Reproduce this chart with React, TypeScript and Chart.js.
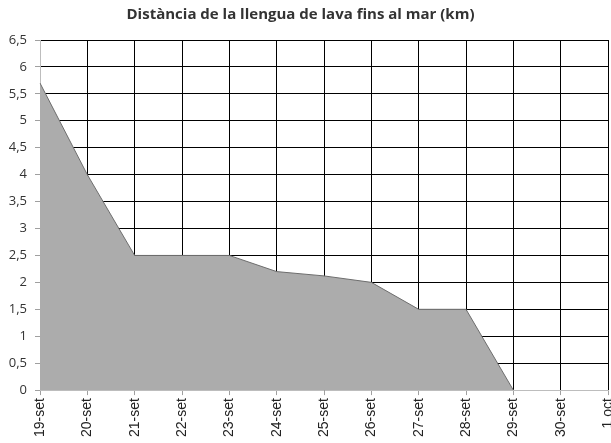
import React, { useEffect, useRef } from "react";
import { Chart, registerables } from "chart.js";

Chart.register(...registerables);

const categories = ["19-set", "20-set", "21-set", "22-set", "23-set", "24-set", "25-set", "26-set", "27-set", "28-set", "29-set", "30-set", "1 oct"];
const distanceKm: (number | null)[] = [5.7, 4.0, 2.5, 2.5, 2.5, 2.2, 2.12, 2.0, 1.5, 1.5, 0, null, null];
const titleText = "Distància de la llengua de lava fins al mar (km)";

const shiftTitle = {
  id: "shiftTitle",
  afterLayout(chart: any) {
    const t = chart.titleBlock;
    if (t) {
      t.left -= 5;
      t.right -= 5;
    }
  },
};

export default function App() {
  const ref = useRef<HTMLCanvasElement | null>(null);
  useEffect(() => {
    if (!ref.current) return;
    const chart = new Chart(ref.current, {
      type: "line",
      data: {
        labels: categories,
        datasets: [
          {
            data: distanceKm,
            fill: "origin",
            backgroundColor: "#acacac",
            borderColor: "#6e6e6e",
            borderWidth: 1,
            pointRadius: 0,
            tension: 0,
            spanGaps: false,
          },
        ],
      },
      plugins: [shiftTitle],
      options: {
        responsive: false,
        animation: false,
        layout: { padding: { left: 0, right: 0, top: 0, bottom: 3 } },
        plugins: {
          legend: { display: false },
          tooltip: { enabled: false },
          title: {
            display: true,
            text: titleText,
            color: "#333333",
            font: { family: "'Open Sans'", size: 15, weight: "bold" },
            padding: { top: 6, bottom: 16 },
          },
        },
        scales: {
          x: {
            offset: false,
            afterFit: (scale: any) => {
              scale.paddingRight = 3;
            },
            grid: {
              color: "#000000",
              lineWidth: 1,
              tickLength: 5,
              tickColor: "#a0a0a0",
              offset: false,
            },
            border: { color: "#bdbdbd", width: 1 },
            ticks: {
              autoSkip: false,
              maxRotation: 90,
              minRotation: 90,
              padding: 3,
              color: "#222222",
              font: { family: "'Liberation Sans'", size: 14 },
            },
          },
          y: {
            min: 0,
            max: 6.5,
            afterFit: (scale: any) => {
              scale.width = 40;
            },
            grid: {
              color: "#000000",
              lineWidth: 1,
              tickLength: 5,
              tickColor: "#a0a0a0",
            },
            border: { color: "#bdbdbd", width: 1 },
            ticks: {
              stepSize: 0.5,
              padding: 8,
              color: "#333333",
              font: { family: "'Open Sans'", size: 13 },
              callback: (v: any) => String(v).replace(".", ","),
            },
          },
        },
      },
    });
    return () => chart.destroy();
  }, []);
  return (
    <div style={{ position: "absolute", left: 0, top: 0, width: 611, height: 443, overflow: "hidden", background: "#fff" }}>
      <canvas ref={ref} width={611} height={443} style={{ display: "block", width: 611, height: 443 }} />
    </div>
  );
}
